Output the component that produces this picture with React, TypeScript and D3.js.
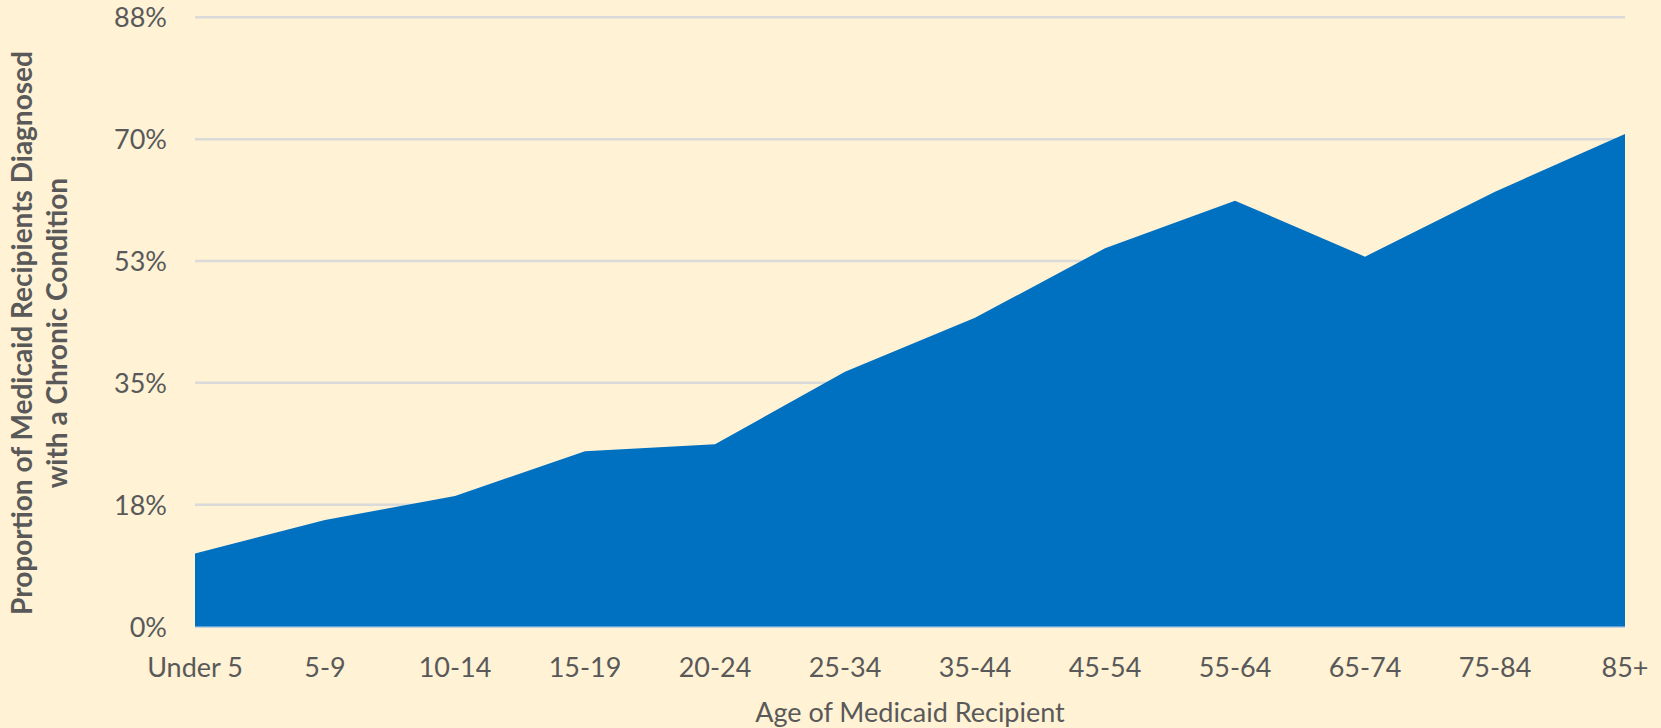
import React from "react";
import * as d3 from "d3";

const categories = ["Under 5", "5-9", "10-14", "15-19", "20-24", "25-34", "35-44", "45-54", "55-64", "65-74", "75-84", "85+"];
const values = [0.105, 0.153, 0.1874, 0.2517, 0.2617, 0.366, 0.4434, 0.5432, 0.6116, 0.5312, 0.6245, 0.7074];
const yTicks = [0, 0.175, 0.35, 0.525, 0.7, 0.875];
const yTickLabels = ["0%", "18%", "35%", "53%", "70%", "88%"];
const xTitle = "Age of Medicaid Recipient";
const yTitleLines = ["Proportion of Medicaid Recipients Diagnosed", "with a Chronic Condition"];

const W = 1661;
const H = 728;
const FONT = "Lato, 'Open Sans', sans-serif";
const TEXT = "#595959";

export default function App() {
  const x = d3.scalePoint<string>().domain(categories).range([195, 1625]);
  const y = d3.scaleLinear().domain([0, 0.875]).range([626.5, 17.3]);
  const data = categories.map((c, i) => ({ c, v: values[i] }));
  const area = d3
    .area<{ c: string; v: number }>()
    .x((d) => x(d.c) as number)
    .y0(y(0))
    .y1((d) => y(d.v));

  return (
    <svg
      width={W}
      height={H}
      style={{ position: "absolute", left: 0, top: 0, display: "block" }}
      xmlns="http://www.w3.org/2000/svg"
    >
      <rect x={0} y={0} width={W} height={H} fill="#FFF2D5" />
      {yTicks.map((t, i) => (
        <g key={i}>
          {i > 0 && (
            <line x1={195} x2={1625} y1={y(t)} y2={y(t)} stroke="#DADADA" strokeWidth={2.5} />
          )}
          <text
            x={167}
            y={y(t) + 10}
            textAnchor="end"
            fontFamily={FONT}
            fontSize={27}
            fill={TEXT}
          >
            {yTickLabels[i]}
          </text>
        </g>
      ))}
      <line x1={195} x2={1625} y1={y(0) + 0.5} y2={y(0) + 0.5} stroke="#C3D3E2" strokeWidth={2} />
      <path d={area(data) || ""} fill="#0070C0" />
      {categories.map((c) => (
        <text
          key={c}
          x={x(c) as number}
          y={677}
          textAnchor="middle"
          fontFamily={FONT}
          fontSize={27}
          fill={TEXT}
        >
          {c}
        </text>
      ))}
      <text
        x={910}
        y={721.5}
        textAnchor="middle"
        fontFamily={FONT}
        fontSize={27}
        fill={TEXT}
      >
        {xTitle}
      </text>
      <g transform="translate(0,333) rotate(-90)">
        {yTitleLines.map((l, i) => (
          <text
            key={i}
            x={0}
            y={31.5 + i * 35}
            textAnchor="middle"
            fontFamily={FONT}
            fontSize={28}
            fontWeight="bold"
            fill={TEXT}
          >
            {l}
          </text>
        ))}
      </g>
    </svg>
  );
}
